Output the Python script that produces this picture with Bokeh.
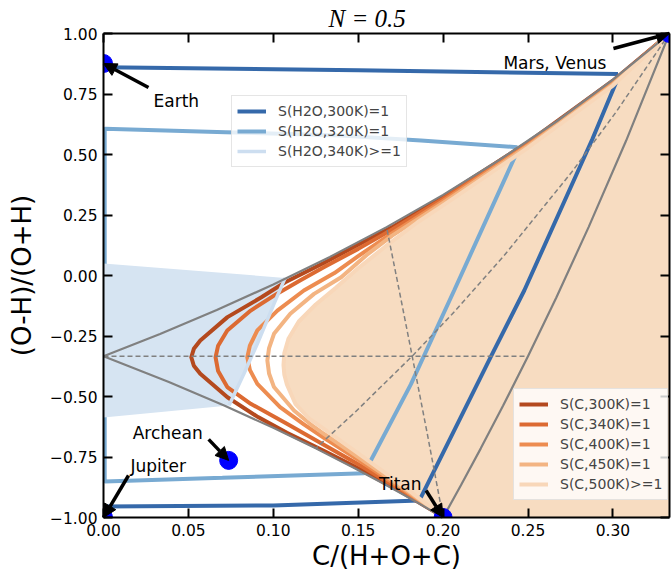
from bokeh.plotting import figure
from bokeh.models import (Range1d, FixedTicker, LinearAxis, Legend, LegendItem,
                          Label, Arrow, NormalHead, Title)
from bokeh.embed import file_html
from bokeh.resources import INLINE

# ---------------- data ----------------
xticks = [0.0, 0.05, 0.10, 0.15, 0.20, 0.25, 0.30]
xtick_labels = ["0.00", "0.05", "0.10", "0.15", "0.20", "0.25", "0.30"]
yticks = [-1.0, -0.75, -0.5, -0.25, 0.0, 0.25, 0.5, 0.75, 1.0]
ytick_labels = ["\u22121.00", "\u22120.75", "\u22120.50", "\u22120.25", "0.00",
                "0.25", "0.50", "0.75", "1.00"]
title_text = "N = 0.5"

# boundaries of the H2O - CO2 - CH4 triangle
edge_h2o_co2_x = [0.0, 0.0333, 0.0667, 0.1, 0.1333, 0.1667, 0.2, 0.2333, 0.2667, 0.3, 0.3333]
edge_h2o_co2_y = [-0.3333, -0.2414, -0.1429, -0.0370, 0.0769, 0.2, 0.3333, 0.4783, 0.6364, 0.8095, 1.0]
edge_h2o_ch4_x = [0.0, 0.0385, 0.0714, 0.1, 0.125, 0.1471, 0.1667, 0.1842, 0.2]
edge_h2o_ch4_y = [-0.3333, -0.44, -0.5385, -0.6296, -0.7143, -0.7931, -0.8667, -0.9355, -1.0]
edge_ch4_co2_x = [0.2, 0.2105, 0.2222, 0.2353, 0.25, 0.2667, 0.2857, 0.3077, 0.3333]
edge_ch4_co2_y = [-1.0, -0.8667, -0.7143, -0.5385, -0.3333, -0.0909, 0.2, 0.5556, 1.0]

# medians (dashed)
med_h2o_x = [0.0, 0.25]
med_h2o_y = [-0.3333, -0.3333]
med_ch4_x = [0.2, 0.1905, 0.1818, 0.1739, 0.1667]
med_ch4_y = [-1.0, -0.6471, -0.3333, -0.0526, 0.2]
med_co2_x = [0.3333, 0.3019, 0.2759, 0.2353, 0.2051, 0.1818, 0.1481, 0.125]
med_co2_y = [1.0, 0.6757, 0.4286, 0.0769, -0.1613, -0.3333, -0.5652, -0.7143]

# S(C, T) = 1 contours
c300_x = [0.3333, 0.30, 0.25, 0.20, 0.17, 0.15, 0.13, 0.107, 0.093, 0.073, 0.057, 0.0532, 0.0517,
          0.0532, 0.057, 0.073, 0.091, 0.108, 0.13, 0.15, 0.175, 0.2]
c300_y = [1.0, 0.805, 0.55, 0.325, 0.20, 0.127, 0.053, -0.028, -0.09, -0.172, -0.269, -0.303, -0.338,
          -0.373, -0.406, -0.503, -0.585, -0.650, -0.725, -0.797, -0.893, -0.997]
c340_x = [0.3333, 0.30, 0.25, 0.20, 0.17, 0.15, 0.13, 0.116, 0.102, 0.0867, 0.0729, 0.0675, 0.066,
          0.0675, 0.0729, 0.0867, 0.108, 0.13, 0.15, 0.175, 0.2]
c340_y = [1.0, 0.80, 0.545, 0.317, 0.19, 0.11, 0.035, -0.02, -0.076, -0.145, -0.227, -0.29, -0.338,
          -0.395, -0.461, -0.530, -0.613, -0.70, -0.78, -0.885, -0.997]
c400_x = [0.3333, 0.30, 0.25, 0.20, 0.17, 0.15, 0.136, 0.118, 0.1024, 0.0906, 0.0862, 0.0847,
          0.0862, 0.0906, 0.104, 0.118, 0.13, 0.15, 0.175, 0.2]
c400_y = [1.0, 0.795, 0.54, 0.308, 0.175, 0.08, 0.01, -0.062, -0.145, -0.227, -0.29, -0.338,
          -0.39, -0.448, -0.544, -0.615, -0.672, -0.762, -0.877, -0.997]
c450_x = [0.3333, 0.30, 0.25, 0.20, 0.17, 0.155, 0.14, 0.124, 0.110, 0.1004, 0.0975, 0.0965,
          0.0975, 0.1004, 0.1122, 0.122, 0.13, 0.15, 0.175, 0.2]
c450_y = [1.0, 0.79, 0.535, 0.30, 0.165, 0.085, -0.007, -0.076, -0.158, -0.241, -0.30, -0.351,
          -0.405, -0.461, -0.558, -0.615, -0.655, -0.75, -0.870, -0.997]
c500_x = [0.3333, 0.30, 0.25, 0.20, 0.185, 0.166, 0.15, 0.137, 0.125, 0.115, 0.109, 0.1065, 0.106,
          0.1065, 0.108, 0.113, 0.121, 0.13, 0.15, 0.175, 0.2]
c500_y = [1.0, 0.785, 0.528, 0.29, 0.22, 0.12, 0.03, -0.05, -0.12, -0.19, -0.26, -0.32, -0.37,
          -0.41, -0.45, -0.53, -0.59, -0.635, -0.735, -0.862, -0.997]

# S(H2O, T) = 1 contours
h300_top_x = [0.0, 0.15, 0.303]
h300_top_y = [0.861, 0.848, 0.833]
h300_x = [0.3028, 0.288, 0.2478, 0.228, 0.186, 0.10, 0.0]
h300_y = [0.813, 0.565, -0.062, -0.337, -0.93, -0.95, -0.955]
h320_x = [0.2429, 0.2065, 0.181, 0.1535, 0.14, 0.07, 0.0007, 0.0007, 0.072, 0.14, 0.187, 0.2438]
h320_y = [0.50, -0.062, -0.45, -0.817, -0.82, -0.836, -0.851, 0.606, 0.592, 0.578, 0.558, 0.53]
h340_fill_x = [0.0, 0.107, 0.1004, 0.0906, 0.0827, 0.0739, 0.0]
h340_fill_y = [0.05, -0.010, -0.117, -0.282, -0.406, -0.537, -0.587]
h340_edge_x = [0.107, 0.1004, 0.0906, 0.0827, 0.0739]
h340_edge_y = [-0.010, -0.117, -0.282, -0.406, -0.537]

# bodies
body_names = ["Earth", "Mars, Venus", "Jupiter", "Titan", "Archean"]
body_x = [0.0, 0.3333, 0.0, 0.2, 0.0737]
body_y = [0.876, 1.0, -1.0, -1.0, -0.764]

# ---------------- styles ----------------
W, H = 672, 576
L, R, T, B = 103, 3, 33, 59
FW, FH = W - L - R, H - T - B
sx = (1 / 3) / FW
sy = 2.0 / FH

label_dx = [50, -166, 27, -64, -96]
label_dy = [-37, -29, 52, 34, 27]
tail_dx = [45, -56, 25, -17, -20]
tail_dy = [-24, -15, 42, 27, 21]

col_c = ["#b4491e", "#dc6a32", "#ed8c50", "#f3b482", "#f8d7b9"]
peach = "#f7dcc1"
col_b300, col_b320, col_b340, fill_b340 = "#3569aa", "#78aad2", "#cddef0", "#d6e4f2"
FONT = "DejaVu Sans"

p = figure(width=W, height=H, x_range=Range1d(0, 1 / 3), y_range=Range1d(-1, 1),
           output_backend="svg", toolbar_location=None,
           min_border_left=L, min_border_right=R, min_border_top=T, min_border_bottom=B,
           x_axis_label="C/(H+O+C)", y_axis_label="(O-H)/(O+H)")
p.title = Title(text=title_text, align="left", offset=225, standoff=3,
                text_font="Liberation Serif", text_font_style="italic",
                text_font_size="25px", text_color="black")
p.grid.visible = False
p.outline_line_color = None
p.background_fill_color = "white"

xb = p.below[0]
yl = p.left[0]
xb.ticker = FixedTicker(ticks=xticks)
xb.major_label_overrides = dict(zip(xticks, xtick_labels))
yl.ticker = FixedTicker(ticks=yticks)
yl.major_label_overrides = dict(zip(yticks, ytick_labels))
top_ax = LinearAxis(ticker=FixedTicker(ticks=xticks))
right_ax = LinearAxis(ticker=FixedTicker(ticks=yticks))
p.add_layout(top_ax, "above")
p.add_layout(right_ax, "right")
for ax in [xb, yl, top_ax, right_ax]:
    ax.axis_line_width = 2
    ax.axis_line_color = "black"
    ax.major_tick_line_width = 2
    ax.major_tick_in = 9
    ax.major_tick_out = 0
    ax.minor_tick_line_color = None
    ax.major_label_text_font = FONT
    ax.major_label_text_font_size = "15.5px"
    ax.major_label_standoff = 6
    ax.axis_label_text_font = FONT
    ax.axis_label_text_font_size = "26px"
    ax.axis_label_text_font_style = "normal"
    ax.axis_label_text_color = "black"
    ax.major_label_text_color = "black"
for ax in [top_ax, right_ax]:
    ax.major_label_text_color = None
    ax.major_label_text_font_size = "0px"
    ax.major_label_standoff = 0
xb.axis_label_standoff = 2
yl.axis_label_standoff = 10

# fills
p.patch(c500_x + [0.34, 0.34], c500_y + [-1.05, 1.05], fill_color=peach, line_color=None)
r_b300 = p.multi_line([h300_top_x, h300_x], [h300_top_y, h300_y], line_color=col_b300, line_width=4)
r_b320 = p.line(h320_x, h320_y, line_color=col_b320, line_width=4)
p.patch(h340_fill_x, h340_fill_y, fill_color=fill_b340, line_color=None)

# S(C) contours
r_c = []
for cx, cy, c in zip([c300_x, c340_x, c400_x, c450_x, c500_x],
                     [c300_y, c340_y, c400_y, c450_y, c500_y], col_c):
    r_c.append(p.line(cx, cy, line_color=c, line_width=4, line_join="round"))
r_b340 = p.line(h340_edge_x, h340_edge_y, line_color=col_b340, line_width=3.5)

# triangle and medians
for ex, ey in [(edge_h2o_co2_x, edge_h2o_co2_y), (edge_h2o_ch4_x, edge_h2o_ch4_y),
               (edge_ch4_co2_x, edge_ch4_co2_y)]:
    p.line(ex, ey, line_color="#808080", line_width=2.2)
for mx, my in [(med_h2o_x, med_h2o_y), (med_ch4_x, med_ch4_y), (med_co2_x, med_co2_y)]:
    p.line(mx, my, line_color="#808080", line_width=1.5, line_dash="5 3")

# bodies
p.scatter(body_x, body_y, size=18, color="#0000ff")
for i, name in enumerate(body_names):
    bx, by = body_x[i], body_y[i]
    p.add_layout(Arrow(end=NormalHead(size=13, fill_color="black", line_color="black"),
                       x_start=bx + tail_dx[i] * sx, y_start=by + tail_dy[i] * sy,
                       x_end=bx, y_end=by, line_width=3.5, line_color="black"))
    p.add_layout(Label(x=bx, y=by, x_offset=label_dx[i], y_offset=label_dy[i], text=name,
                       text_font=FONT, text_font_size="17px", text_baseline="alphabetic",
                       text_align="left", text_color="black"))

# legends
def style_legend(lg):
    lg.label_text_font = FONT
    lg.label_text_font_size = "14px"
    lg.glyph_width = 29
    lg.glyph_height = 20
    lg.label_height = 20
    lg.label_standoff = 12
    lg.padding = 5
    lg.spacing = 0
    lg.margin = 0
    lg.border_line_color = "#cccccc"
    lg.border_line_width = 1
    lg.background_fill_color = "white"
    lg.background_fill_alpha = 0.8

leg1 = Legend(items=[LegendItem(label="S(H2O,300K)=1", renderers=[r_b300]),
                     LegendItem(label="S(H2O,320K)=1", renderers=[r_b320]),
                     LegendItem(label="S(H2O,340K)>=1", renderers=[r_b340])],
              location=(128, 350))
style_legend(leg1)
leg2 = Legend(items=[LegendItem(label=t, renderers=[r]) for t, r in
                     zip(["S(C,300K)=1", "S(C,340K)=1", "S(C,400K)=1", "S(C,450K)=1",
                          "S(C,500K)>=1"], r_c)],
              location=(410, 17))
style_legend(leg2)
p.add_layout(leg1)
p.add_layout(leg2)

open("out.html", "w").write(file_html(p, INLINE))
